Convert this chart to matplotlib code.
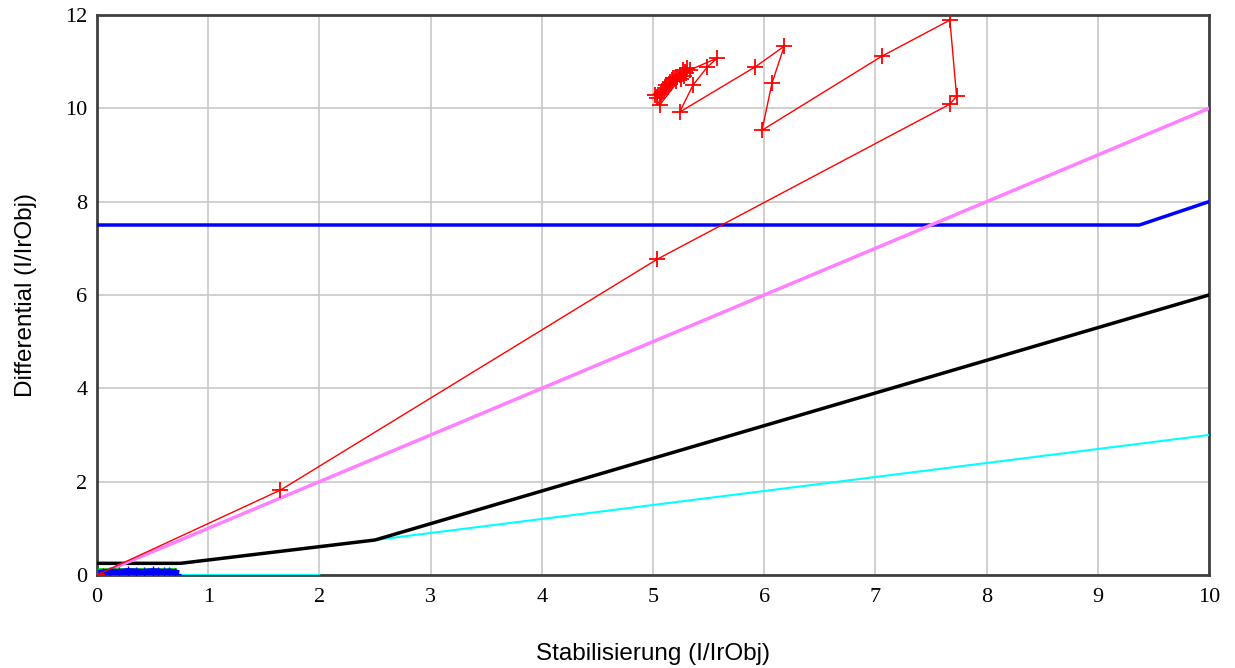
import numpy as np
import matplotlib
matplotlib.use("Agg")
import matplotlib.pyplot as plt

# reference lines
x_line = [0, 10]
magenta_y = [0, 10]

blue_x = [0, 9.375, 10]
blue_y = [7.5, 7.5, 8.0]

black_x = [0, 0.75, 2.5, 10]
black_y = [0.25, 0.25, 0.75, 6.0]

# cyan is split at x=2 (no vertical jump drawn)
cyan_x = [0, 2, np.nan, 2, 10]
cyan_y = [0, 0, np.nan, 0.6, 3.0]

green_x = [0, 0.7]
green_y = [0.12, 0.12]

blue_pts_x = [0.05, 0.12, 0.2, 0.28, 0.35, 0.42, 0.5, 0.55, 0.6, 0.65, 0.7]
blue_pts_y = [0.03, 0.05, 0.04, 0.06, 0.05, 0.04, 0.06, 0.05, 0.04, 0.05, 0.03]

# measured trajectory
traj_x = [0.0, 1.65, 5.04, 7.67, 7.73, 7.67, 7.06, 5.98, 6.07, 6.18, 5.92,
          5.24, 5.36, 5.49, 5.58, 5.33, 5.02, 5.06, 5.29, 5.11, 5.24, 5.15,
          5.31, 5.04, 5.20, 5.08, 5.27, 5.17, 5.22, 5.12, 5.30, 5.10, 5.25,
          5.14, 5.28, 5.18, 5.07, 5.21]
traj_y = [0.0, 1.82, 6.77, 10.09, 10.26, 11.89, 11.12, 9.53, 10.54, 11.33, 10.89,
          9.92, 10.50, 10.89, 11.08, 10.82, 10.28, 10.07, 10.78, 10.43, 10.71, 10.56,
          10.86, 10.22, 10.64, 10.34, 10.82, 10.60, 10.68, 10.50, 10.75, 10.40, 10.62,
          10.52, 10.70, 10.66, 10.30, 10.58]

fig = plt.figure(figsize=(12.35, 6.68), dpi=100)
ax = fig.add_axes([97 / 1235, 1 - 575 / 668, (1209 - 97) / 1235, (575 - 15) / 668])

ax.plot(cyan_x, cyan_y, color="#00ffff", lw=1.5, zorder=3)
ax.plot(black_x, black_y, color="black", lw=2.5, zorder=4)
ax.plot(blue_x, blue_y, color="#0000ff", lw=2.5, zorder=4)
ax.plot(x_line, magenta_y, color="#ff80ff", lw=2.5, zorder=4)
ax.plot(green_x, green_y, color="#00dd00", lw=2, zorder=5)
ax.plot(blue_pts_x, blue_pts_y, color="#0000ff", lw=6, marker="+", ms=8, zorder=5)
ax.plot(traj_x, traj_y, color="red", lw=1, marker="+", ms=11, mew=1.3, zorder=6)

ax.set_xlim(0, 10)
ax.set_ylim(0, 12)
ax.set_xticks(range(0, 11))
ax.set_yticks(range(0, 13, 2))
ax.grid(True, color="#c8c8c8", lw=1.2)
ax.set_axisbelow(True)
ax.tick_params(axis="x", length=0, pad=9)
ax.tick_params(axis="y", length=0, pad=7)
for lab in ax.get_xticklabels() + ax.get_yticklabels():
    lab.set_family("Liberation Serif")
    lab.set_fontsize(16)
for s in ax.spines.values():
    s.set_color("#404040")
    s.set_linewidth(2)

ax.set_xlabel("Stabilisierung (I/IrObj)", family="Liberation Sans", fontsize=17.5, labelpad=26)
ax.set_ylabel("Differential (I/IrObj)", family="Liberation Sans", fontsize=17.5, labelpad=20)

fig.savefig("out.png", dpi=100)
